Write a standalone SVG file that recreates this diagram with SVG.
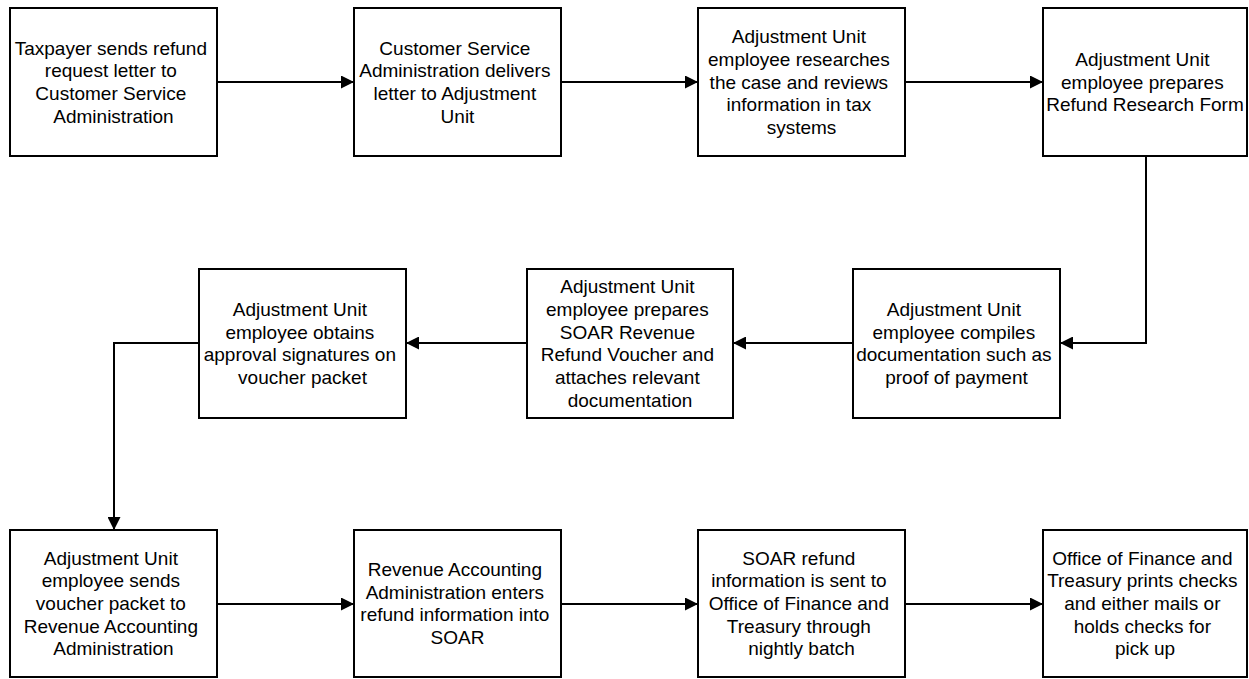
<svg xmlns="http://www.w3.org/2000/svg" width="1249" height="679" viewBox="0 0 1249 679">
  <style>
    .box { fill: #ffffff; stroke: #000000; stroke-width: 2; }
    .lbl { font-family: "Liberation Sans", Arial, sans-serif; font-size: 19px; fill: #000000; text-anchor: middle; }
    .conn { fill: none; stroke: #000000; stroke-width: 2; marker-end: url(#arrow); }
  </style>
  <defs>
    <marker id="arrow" markerUnits="userSpaceOnUse" markerWidth="13" markerHeight="13" refX="13" refY="6.5" orient="auto">
      <path d="M0,0 L13,6.5 L0,13 Z" fill="#000000"/>
    </marker>
  </defs>
  <rect width="1249" height="679" fill="#ffffff"/>

  <!-- connectors -->
  <g id="connectors">
    <path class="conn" d="M217 82 H354"/>
    <path class="conn" d="M561 82 H698"/>
    <path class="conn" d="M905 82 H1043"/>
    <path class="conn" d="M1146 156 V343 H1060"/>
    <path class="conn" d="M853 343 H733"/>
    <path class="conn" d="M527 343 H406"/>
    <path class="conn" d="M199 343 H114 V530"/>
    <path class="conn" d="M217 604 H354"/>
    <path class="conn" d="M561 604 H698"/>
    <path class="conn" d="M905 604 H1043"/>
  </g>

  <!-- row 1 -->
  <g id="taxpayer-sends">
    <rect class="box" x="10" y="8" width="207" height="148"/>
    <text class="lbl">
      <tspan x="113.5" y="54.5">Taxpayer sends refund</tspan>
      <tspan x="113.5" y="77.2">request letter to</tspan>
      <tspan x="113.5" y="99.9">Customer Service</tspan>
      <tspan x="113.5" y="122.6">Administration</tspan>
    </text>
  </g>
  <g id="csa-delivers">
    <rect class="box" x="354" y="8" width="207" height="148"/>
    <text class="lbl">
      <tspan x="457.5" y="54.5">Customer Service</tspan>
      <tspan x="457.5" y="77.2">Administration delivers</tspan>
      <tspan x="457.5" y="99.9">letter to Adjustment</tspan>
      <tspan x="457.5" y="122.6">Unit</tspan>
    </text>
  </g>
  <g id="au-researches">
    <rect class="box" x="698" y="8" width="207" height="148"/>
    <text class="lbl">
      <tspan x="801.5" y="43.1">Adjustment Unit</tspan>
      <tspan x="801.5" y="65.8">employee researches</tspan>
      <tspan x="801.5" y="88.5">the case and reviews</tspan>
      <tspan x="801.5" y="111.2">information in tax</tspan>
      <tspan x="801.5" y="133.9">systems</tspan>
    </text>
  </g>
  <g id="au-research-form">
    <rect class="box" x="1043" y="8" width="204" height="148"/>
    <text class="lbl">
      <tspan x="1145" y="65.8">Adjustment Unit</tspan>
      <tspan x="1145" y="88.5">employee prepares</tspan>
      <tspan x="1145" y="111.2">Refund Research Form</tspan>
    </text>
  </g>

  <!-- row 2 -->
  <g id="au-compiles">
    <rect class="box" x="853" y="269" width="207" height="149"/>
    <text class="lbl">
      <tspan x="956.5" y="316">Adjustment Unit</tspan>
      <tspan x="956.5" y="338.7">employee compiles</tspan>
      <tspan x="956.5" y="361.4">documentation such as</tspan>
      <tspan x="956.5" y="384.1">proof of payment</tspan>
    </text>
  </g>
  <g id="au-voucher">
    <rect class="box" x="527" y="269" width="206" height="149"/>
    <text class="lbl">
      <tspan x="630" y="293.3">Adjustment Unit</tspan>
      <tspan x="630" y="316">employee prepares</tspan>
      <tspan x="630" y="338.7">SOAR Revenue</tspan>
      <tspan x="630" y="361.4">Refund Voucher and</tspan>
      <tspan x="630" y="384.1">attaches relevant</tspan>
      <tspan x="630" y="406.8">documentation</tspan>
    </text>
  </g>
  <g id="au-signatures">
    <rect class="box" x="199" y="269" width="207" height="149"/>
    <text class="lbl">
      <tspan x="302.5" y="316">Adjustment Unit</tspan>
      <tspan x="302.5" y="338.7">employee obtains</tspan>
      <tspan x="302.5" y="361.4">approval signatures on</tspan>
      <tspan x="302.5" y="384.1">voucher packet</tspan>
    </text>
  </g>

  <!-- row 3 -->
  <g id="au-sends-packet">
    <rect class="box" x="10" y="530" width="207" height="147"/>
    <text class="lbl">
      <tspan x="113.5" y="564.6">Adjustment Unit</tspan>
      <tspan x="113.5" y="587.3">employee sends</tspan>
      <tspan x="113.5" y="610">voucher packet to</tspan>
      <tspan x="113.5" y="632.7">Revenue Accounting</tspan>
      <tspan x="113.5" y="655.4">Administration</tspan>
    </text>
  </g>
  <g id="raa-enters">
    <rect class="box" x="354" y="530" width="207" height="147"/>
    <text class="lbl">
      <tspan x="457.5" y="576">Revenue Accounting</tspan>
      <tspan x="457.5" y="598.7">Administration enters</tspan>
      <tspan x="457.5" y="621.4">refund information into</tspan>
      <tspan x="457.5" y="644.1">SOAR</tspan>
    </text>
  </g>
  <g id="soar-batch">
    <rect class="box" x="698" y="530" width="207" height="147"/>
    <text class="lbl">
      <tspan x="801.5" y="564.6">SOAR refund</tspan>
      <tspan x="801.5" y="587.3">information is sent to</tspan>
      <tspan x="801.5" y="610">Office of Finance and</tspan>
      <tspan x="801.5" y="632.7">Treasury through</tspan>
      <tspan x="801.5" y="655.4">nightly batch</tspan>
    </text>
  </g>
  <g id="oft-prints">
    <rect class="box" x="1043" y="530" width="204" height="147"/>
    <text class="lbl">
      <tspan x="1145" y="564.6">Office of Finance and</tspan>
      <tspan x="1145" y="587.3">Treasury prints checks</tspan>
      <tspan x="1145" y="610">and either mails or</tspan>
      <tspan x="1145" y="632.7">holds checks for</tspan>
      <tspan x="1145" y="655.4">pick up</tspan>
    </text>
  </g>
</svg>
